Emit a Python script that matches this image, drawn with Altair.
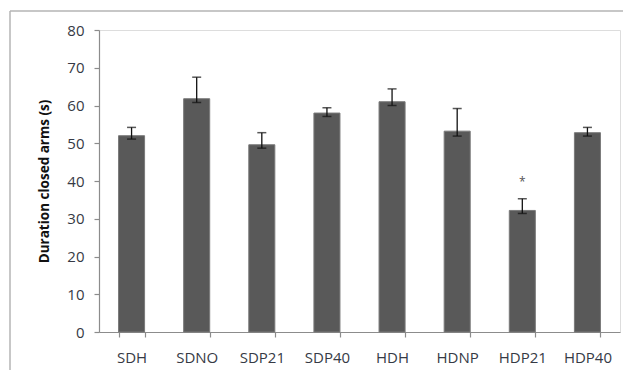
import altair as alt
import pandas as pd

groups = ["SDH", "SDNO", "SDP21", "SDP40", "HDH", "HDNP", "HDP21", "HDP40"]
means = [52.0, 61.8, 49.6, 58.0, 61.0, 53.2, 32.2, 52.8]
err_low = [51.1, 60.8, 48.7, 57.1, 60.0, 51.9, 31.4, 51.9]
err_high = [54.2, 67.5, 52.8, 59.4, 64.4, 59.2, 35.3, 54.2]
sig = ["", "", "", "", "", "", "*", ""]

df = pd.DataFrame({
    "group": groups, "mean": means, "low": err_low, "high": err_high, "sig": sig,
})
df["sig_y"] = df["high"] + 5.2

FONT = "Open Sans"
xaxis = alt.Axis(labelAngle=0, labelFont=FONT, labelFontSize=15,
                 labelColor="#363a45", domainColor="#8c8c8c",
                 tickColor="#8c8c8c", tickSize=5, tickBand="extent",
                 labelPadding=13, domainWidth=1.2, tickWidth=1.2)
xscale = alt.Scale(paddingInner=0.6, paddingOuter=0.3)
yaxis = alt.Axis(values=list(range(0, 81, 10)), grid=False,
                 labelFont=FONT, labelFontSize=15, labelColor="#363a45",
                 domainColor="#8c8c8c", tickColor="#8c8c8c", tickSize=5,
                 labelPadding=10, domainWidth=1.2, tickWidth=1.2,
                 titleFont=FONT, titleFontSize=13.5, titleFontWeight="bold",
                 titleColor="#111111", titlePadding=15)
yscale = alt.Scale(domain=[0, 80])
YT = "Duration closed arms (s)"


def X():
    return alt.X("group:N", sort=groups, title=None, scale=xscale, axis=xaxis)


def Y(field):
    return alt.Y(field, title=YT, scale=yscale, axis=yaxis)


base = alt.Chart(df)
bars = base.mark_bar(color="#595959", stroke="#7a7a7a", strokeWidth=1).encode(
    x=X(), y=Y("mean:Q"))
rule = base.mark_rule(color="#111111", strokeWidth=1.3).encode(
    x=X(), y=Y("low:Q"), y2="high:Q")
cap_hi = base.mark_tick(color="#111111", size=9, thickness=1.5).encode(
    x=X(), y=Y("high:Q"))
cap_lo = base.mark_tick(color="#111111", size=9, thickness=1.5).encode(
    x=X(), y=Y("low:Q"))
stars = base.mark_text(font=FONT, fontSize=12, color="#555555", dy=3,
                       baseline="middle").encode(
    x=X(), y=Y("sig_y:Q"), text="sig:N")

border_top = alt.Chart(pd.DataFrame({"k": [0]})).mark_rule(
    color="#b4b4b4", strokeWidth=1.5).encode(
    x=alt.value(-89), x2=alt.value(524), y=alt.value(-19))
border_left = alt.Chart(pd.DataFrame({"k": [0]})).mark_rule(
    color="#b4b4b4", strokeWidth=1.5).encode(
    x=alt.value(-89), y=alt.value(-19), y2=alt.value(340))

chart = alt.layer(bars, rule, cap_hi, cap_lo, stars, border_top, border_left).properties(
    width=521, height=302,
    padding={"left": 1, "top": 2, "right": 0, "bottom": 0},
).configure_view(stroke=None).configure(background="white")

chart.save("out.html", embed_options={"renderer": "svg", "actions": False})
